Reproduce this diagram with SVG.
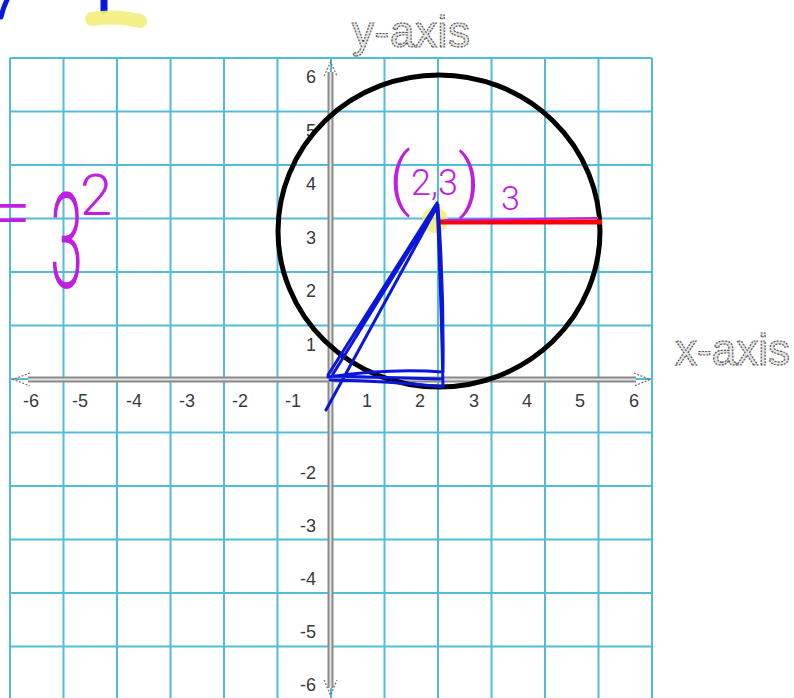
<svg xmlns="http://www.w3.org/2000/svg" width="794" height="698" viewBox="0 0 794 698">
<style>
.grid{fill:none;stroke:#52bdd6;stroke-width:2}
.axo{stroke:#8a8a8a;stroke-width:6;fill:none}
.axi{stroke:#e2e2e2;stroke-width:2;fill:none}
.arr{fill:none;stroke:#777;stroke-width:1.3;stroke-dasharray:2 1.5}
.num{font-family:"Liberation Sans",Arial,sans-serif;font-size:18px;fill:#3a3a3a}
.ttl{font-family:"Liberation Sans",Arial,sans-serif;font-size:44px;fill:#e4e4e4;stroke:#555;stroke-width:1.2;stroke-dasharray:2 1.2}
.ink{font-family:Roboto,"Liberation Sans",Arial,sans-serif;font-weight:300;fill:#c01ee0}
.blue{fill:none;stroke:#0a16dc;stroke-width:3;stroke-linecap:round;stroke-linejoin:round}
</style>
<rect width="794" height="698" fill="#fff"/>
<g id="scribbles">
<path d="M7,0 Q3,8 1,17" fill="none" stroke="#0a16dc" stroke-width="5" stroke-linecap="round"/>
<path d="M104,0 L104,10" fill="none" stroke="#0a16dc" stroke-width="7" stroke-linecap="round"/>
<path d="M92,19 Q115,15 140,21" fill="none" stroke="#f1ee7a" stroke-width="14" stroke-linecap="round" opacity="0.9"/>
</g>
<g id="grid">
<path class="grid" d="M10,58V698M63.5,58V698M117,58V698M170.5,58V698M224,58V698M277.5,58V698M331,58V698M384.5,58V698M438,58V698M491.5,58V698M545,58V698M598.5,58V698M652,58V698M10,58H652M10,111.5H652M10,165H652M10,218.5H652M10,272H652M10,325.5H652M10,379H652M10,432.5H652M10,486H652M10,539.5H652M10,593H652M10,646.5H652"/>
</g>
<g id="axes">
<path class="axo" d="M28,379.5H636M330.5,72V688"/>
<path class="axi" d="M28,379.5H636M330.5,72V688"/>
<path class="arr" d="M30,373 L13,379.5 L30,386 M634,373 L650,379.5 L634,386 M324,76 L330.5,62 L337,76 M324,680 L330.5,695 L337,680"/>
</g>
<g id="labels">
<text class="ttl" x="352" y="47" textLength="118" lengthAdjust="spacing">y-axis</text>
<text class="ttl" x="675" y="365" textLength="115" lengthAdjust="spacing">x-axis</text>
<g class="num" text-anchor="middle">
<text x="31" y="407">-6</text><text x="80" y="407">-5</text><text x="134" y="407">-4</text><text x="187" y="407">-3</text><text x="240" y="407">-2</text><text x="293" y="407">-1</text>
<text x="367" y="407">1</text><text x="420" y="407">2</text><text x="474" y="407">3</text><text x="527" y="407">4</text><text x="580" y="407">5</text><text x="634" y="407">6</text>
</g>
<g class="num" text-anchor="end">
<text x="316" y="83">6</text><text x="316" y="136.5">5</text><text x="316" y="190">4</text><text x="316" y="243.5">3</text><text x="316" y="297">2</text><text x="316" y="351">1</text>
<text x="316" y="479">-2</text><text x="316" y="532">-3</text><text x="316" y="585">-4</text><text x="316" y="638">-5</text><text x="316" y="691">-6</text>
</g>
</g>
<g id="circle">
<ellipse cx="439" cy="231" rx="161" ry="156" fill="none" stroke="#000" stroke-width="5"/>
</g>
<g id="connectors">
<circle cx="435" cy="220" r="13" fill="#eeeb6a" opacity="0.75"/>
<line x1="440" y1="222" x2="602" y2="222" stroke="#f00" stroke-width="5"/>
<path d="M444,220 L598,218" fill="none" stroke="#c01ee0" stroke-width="2"/>
<path class="blue" d="M437,203 L328,375 M436,207 L333,374 M438,205 L326,410 M437,203 Q441,290 443,387 M438,206 Q444,290 443,372 M328,377 Q390,368 443,372 M330,380 Q390,381 443,387 M332,376 L440,379"/>
</g>
<g id="handwriting">
<text class="ink" x="-8" y="236" font-size="70">=</text>
<text class="ink" font-size="133" transform="translate(50,288) scale(0.45,1)">3</text>
<text class="ink" x="80" y="215" font-size="58">2</text>
<text class="ink" y="202"><tspan x="389" font-size="68">(</tspan><tspan x="411" y="195" font-size="36">2,3</tspan><tspan x="458" y="204" font-size="68">)</tspan></text>
<text class="ink" x="501" y="210" font-size="34">3</text>
</g>
</svg>
